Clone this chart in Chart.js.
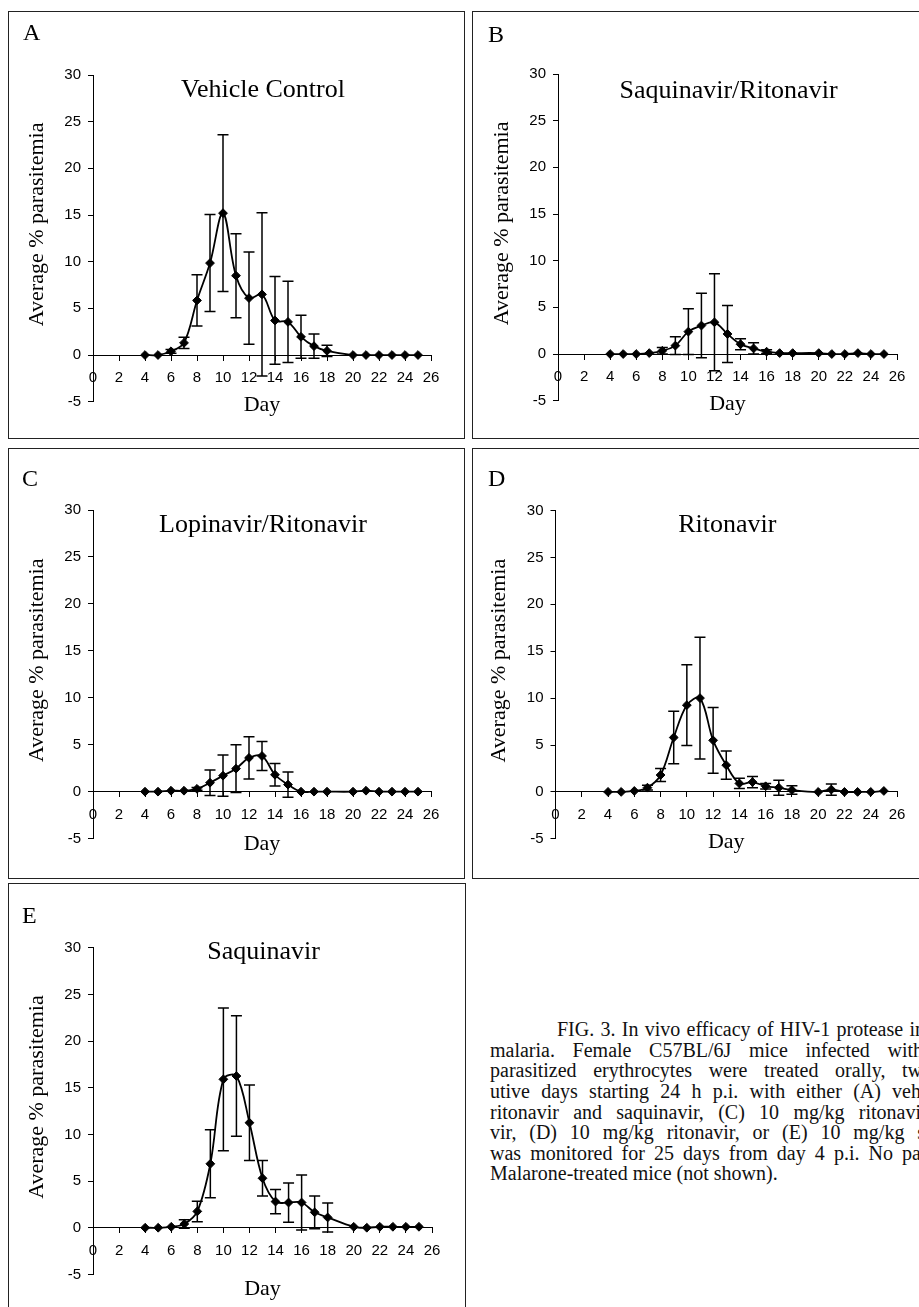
<!DOCTYPE html>
<html>
<head>
<meta charset="utf-8">
<title>FIG. 3 - In vivo efficacy of HIV-1 protease inhibitors</title>
<script src="https://cdn.jsdelivr.net/npm/chart.js@4.4.1/dist/chart.umd.min.js"></script>
<style>
  html, body { margin: 0; padding: 0; background: #fff; }
  body { width: 919px; height: 1307px; position: relative; overflow: hidden; }
  .box { position: absolute; box-sizing: border-box; border: 1.5px solid #222; }
  canvas { position: absolute; }
  .cap { position: absolute; font-family: 'Liberation Serif', 'Times New Roman', serif; font-size: 20px; line-height: 20px; white-space: nowrap; color: #111; }
</style>
</head>
<body>
<script>
// days sampled (no reading on day 19)
const days = [4, 5, 6, 7, 8, 9, 10, 11, 12, 13, 14, 15, 16, 17, 18, 20, 21, 22, 23, 24, 25];
const xTicks = [0, 2, 4, 6, 8, 10, 12, 14, 16, 18, 20, 22, 24, 26];
const yTicks = [-5, 0, 5, 10, 15, 20, 25, 30];

const titles = ['Vehicle Control', 'Saquinavir/Ritonavir', 'Lopinavir/Ritonavir', 'Ritonavir', 'Saquinavir'];
const letters = ['A', 'B', 'C', 'D', 'E'];

// average % parasitemia and error bar half-length
const vehicleMean = [0, 0, 0.4, 1.3, 5.85, 9.85, 15.2, 8.5, 6.1, 6.5, 3.7, 3.55, 1.95, 0.95, 0.45, 0, 0, 0, 0, 0, 0];
const vehicleSd   = [0, 0, 0.2, 0.6, 2.75, 5.2, 8.4, 4.5, 4.95, 8.75, 4.7, 4.35, 2.3, 1.3, 0.6, 0, 0, 0, 0, 0, 0];

const saqRitMean = [0, 0, 0, 0.1, 0.35, 0.9, 2.4, 3.05, 3.4, 2.15, 1.05, 0.6, 0.25, 0.1, 0.1, 0.1, 0, 0, 0.1, 0, 0];
const saqRitSd   = [0, 0, 0, 0, 0.35, 0.95, 2.45, 3.45, 5.2, 3.05, 0.6, 0.6, 0.2, 0, 0, 0, 0, 0, 0, 0, 0];

const lopRitMean = [0, 0, 0.1, 0.1, 0.3, 0.95, 1.7, 2.45, 3.6, 3.8, 1.8, 0.75, 0, 0, 0, 0, 0.1, 0, 0, 0, 0];
const lopRitSd   = [0, 0, 0, 0, 0.15, 1.35, 2.2, 2.55, 2.25, 1.55, 1.2, 1.35, 0, 0, 0, 0, 0, 0, 0, 0, 0];

const ritMean = [0, 0, 0.1, 0.45, 1.8, 5.8, 9.25, 10.0, 5.5, 2.85, 0.9, 1.05, 0.6, 0.45, 0.2, 0, 0.25, 0, 0, 0, 0.1];
const ritSd   = [0, 0, 0, 0.25, 0.7, 2.8, 4.3, 6.5, 3.5, 1.5, 0.55, 0.6, 0.3, 0.8, 0.45, 0, 0.6, 0, 0, 0, 0];

const saqMean = [0, 0, 0.1, 0.4, 1.75, 6.85, 15.9, 16.25, 11.25, 5.3, 2.8, 2.7, 2.7, 1.65, 1.1, 0.1, 0, 0.1, 0.1, 0.1, 0.1];
const saqSd   = [0, 0, 0, 0.45, 1.1, 3.65, 7.65, 6.45, 4.05, 1.9, 1.3, 2.1, 2.95, 1.75, 1.55, 0, 0, 0, 0, 0, 0];

const captionLines = [
    'FIG. 3. In vivo efficacy of HIV-1 protease in',
    'malaria. Female C57BL/6J mice infected with',
    'parasitized erythrocytes were treated orally, tw',
    'utive days starting 24 h p.i. with either (A) veh',
    'ritonavir and saquinavir, (C) 10 mg/kg ritonavi',
    'vir, (D) 10 mg/kg ritonavir, or (E) 10 mg/kg s',
    'was monitored for 25 days from day 4 p.i. No pa',
    'Malarone-treated mice (not shown).'
];

// page layout: box = [left, top, width, height], plot = [left, top, right, bottom] of the axes
const panels = [
    { mean: vehicleMean, sd: vehicleSd, box: [8, 11, 457, 428],   plot: [93, 75, 431, 401.7],      titleDy: 21.7, dayDy: 56,   letterAt: [23, 40] },
    { mean: saqRitMean,  sd: saqRitSd,  box: [472, 11, 460, 428], plot: [558, 74, 897, 400.7],     titleDy: 24,   dayDy: 56,   letterAt: [488, 42] },
    { mean: lopRitMean,  sd: lopRitSd,  box: [8, 448, 457, 431],  plot: [93, 510, 431, 838.6],     titleDy: 21.7, dayDy: 58.8, letterAt: [22, 486] },
    { mean: ritMean,     sd: ritSd,     box: [472, 448, 460, 431],plot: [555.5, 510.5, 897, 838.8],titleDy: 21,   dayDy: 56,   letterAt: [488, 486] },
    { mean: saqMean,     sd: saqSd,     box: [8, 883, 458, 440],  plot: [93, 947.7, 432, 1274.4],  titleDy: 11.3, dayDy: 67.3, letterAt: [22, 923] }
];

const SERIF = '"Liberation Serif", "Times New Roman", serif';
const Y_W = 40, X_H = 30;

function errorBars(p) {
    return {
        id: 'errorBars',
        beforeDatasetsDraw(chart) {
            const { ctx, scales: { x, y } } = chart;
            ctx.save();
            ctx.strokeStyle = '#000';
            ctx.lineWidth = 1.5;
            ctx.beginPath();
            p.sd.forEach((s, i) => {
                if (!s) return;
                const px = x.getPixelForValue(days[i]);
                const hi = y.getPixelForValue(p.mean[i] + s);
                const lo = y.getPixelForValue(p.mean[i] - s);
                ctx.moveTo(px, hi); ctx.lineTo(px, lo);
                ctx.moveTo(px - 5.5, hi); ctx.lineTo(px + 5.5, hi);
                ctx.moveTo(px - 5.5, lo); ctx.lineTo(px + 5.5, lo);
            });
            ctx.stroke();
            ctx.restore();
        }
    };
}

function panelText(p, idx) {
    return {
        id: 'panelText',
        afterDraw(chart) {
            const { ctx, chartArea: a, scales: { y } } = chart;
            const [bx, by] = p.box;
            const cx = (a.left + a.right) / 2;
            ctx.save();
            ctx.fillStyle = '#000';
            ctx.textBaseline = 'alphabetic';

            ctx.font = '24px ' + SERIF;
            ctx.textAlign = 'left';
            ctx.fillText(letters[idx], p.letterAt[0] - bx, p.letterAt[1] - by);

            ctx.textAlign = 'center';
            ctx.font = '26px ' + SERIF;
            ctx.fillText(titles[idx], cx + 1, a.top + p.titleDy);

            ctx.font = '22px ' + SERIF;
            ctx.fillText('Day', cx, y.getPixelForValue(0) + p.dayDy);

            ctx.translate(a.left - 56, (a.top + a.bottom) / 2 - 14);
            ctx.rotate(-Math.PI / 2);
            ctx.textBaseline = 'middle';
            ctx.fillText('Average % parasitemia', 0, 0);
            ctx.restore();
        }
    };
}

function buildPanel(p, idx) {
    const [bx, by, bw, bh] = p.box;
    const [pl, pt, pr, pb] = p.plot;

    const box = document.createElement('div');
    box.className = 'box';
    Object.assign(box.style, { left: bx + 'px', top: by + 'px', width: bw + 'px', height: bh + 'px' });

    const cv = document.createElement('canvas');
    cv.width = bw;
    cv.height = bh;
    Object.assign(cv.style, { left: bx + 'px', top: by + 'px', width: bw + 'px', height: bh + 'px' });
    document.body.append(box, cv);

    const tickFont = { family: '"Liberation Sans", Arial, sans-serif', size: 15 };
    let pad = { left: pl - bx - Y_W, top: pt - by, right: bx + bw - pr, bottom: by + bh - pb - X_H };

    const chart = new Chart(cv, {
        type: 'line',
        data: {
            datasets: [{
                data: days.map((d, i) => ({ x: d, y: p.mean[i] })),
                borderColor: '#000',
                borderWidth: 1.8,
                tension: 0.35,
                fill: false,
                pointStyle: 'rectRot',
                pointRadius: 4.4,
                pointBackgroundColor: '#000',
                pointBorderColor: '#000',
                pointBorderWidth: 1
            }]
        },
        options: {
            responsive: false,
            animation: false,
            events: [],
            layout: { padding: pad },
            plugins: { legend: { display: false }, tooltip: { enabled: false } },
            scales: {
                x: {
                    type: 'linear',
                    position: { y: 0 },
                    min: xTicks[0],
                    max: xTicks[xTicks.length - 1],
                    afterFit: s => { s.height = X_H; },
                    afterBuildTicks: s => { s.ticks = xTicks.map(v => ({ value: v })); },
                    grid: { drawOnChartArea: false, drawTicks: true, tickLength: 5, color: '#000', lineWidth: 1 },
                    border: { display: true, color: '#000', width: 1 },
                    ticks: { font: tickFont, color: '#000', padding: 9, maxRotation: 0, autoSkip: false }
                },
                y: {
                    type: 'linear',
                    position: 'left',
                    min: yTicks[0],
                    max: yTicks[yTicks.length - 1],
                    afterFit: s => { s.width = Y_W; },
                    afterBuildTicks: s => { s.ticks = yTicks.map(v => ({ value: v })); },
                    grid: { drawOnChartArea: false, drawTicks: true, tickLength: 5, color: '#000', lineWidth: 1 },
                    border: { display: true, color: '#000', width: 1 },
                    ticks: { font: tickFont, color: '#000', padding: 7, autoSkip: false }
                }
            }
        },
        plugins: [errorBars(p), panelText(p, idx)]
    });

    // nudge the layout padding until the axes sit where they do in the figure
    for (let k = 0; k < 3; k++) {
        const a = chart.chartArea;
        pad = {
            left: pad.left + (pl - bx - a.left),
            top: pad.top + (pt - by - a.top),
            right: pad.right + (a.right - (pr - bx)),
            bottom: pad.bottom + (a.bottom - (pb - by))
        };
        chart.options.layout.padding = pad;
        chart.update();
    }
}

function buildCaption() {
    const starts = [557, 490, 490, 490, 490, 490, 490, 490];
    const ends = [925, 923, 922, 921, 921, 925, 921, 0];
    const mctx = document.createElement('canvas').getContext('2d');
    mctx.font = '20px ' + SERIF;
    captionLines.forEach((t, i) => {
        const d = document.createElement('div');
        d.className = 'cap';
        d.textContent = t;
        d.style.left = starts[i] + 'px';
        d.style.top = (1036 + i * 20.57 - 16.75) + 'px';
        if (ends[i]) {
            const gaps = t.split(' ').length - 1;
            const w = mctx.measureText(t).width;
            d.style.wordSpacing = ((ends[i] - starts[i] - w) / gaps) + 'px';
        }
        document.body.appendChild(d);
    });
}

panels.forEach(buildPanel);
buildCaption();
</script>
</body>
</html>
